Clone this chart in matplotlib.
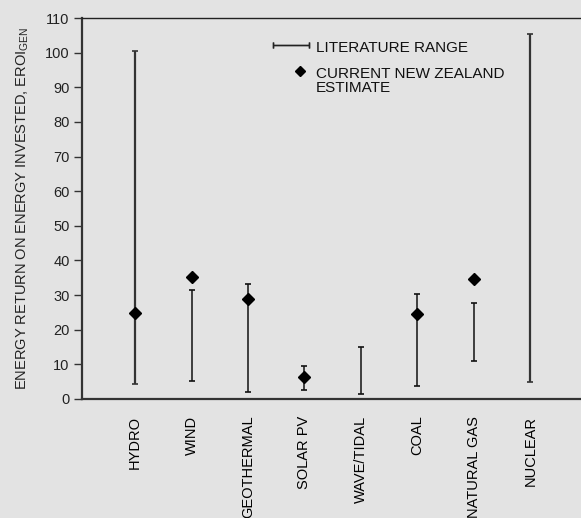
import matplotlib.pyplot as plt
import numpy as np

plt.rcParams['font.family'] = ['Liberation Sans', 'DejaVu Sans']
plt.rcParams['mathtext.fontset'] = 'custom'
plt.rcParams['mathtext.rm'] = 'Liberation Sans'

sources = ['HYDRO', 'WIND', 'GEOTHERMAL', 'SOLAR PV', 'WAVE/TIDAL', 'COAL',
           'NATURAL GAS', 'NUCLEAR']
range_low = [4.2, 5.2, 2.1, 2.6, 1.5, 3.8, 11.0, 5.0]
range_high = [100.4, 31.5, 33.1, 9.6, 14.9, 30.2, 27.7, 105.4]
nz_estimate = [24.9, 35.2, 28.8, 6.4, np.nan, 24.4, 34.7, np.nan]

bg = '#e3e3e3'
fig = plt.figure(figsize=(5.81, 5.18), dpi=100, facecolor=bg)
ax = fig.add_axes([82 / 581, 1 - 399 / 518, 1 - 82 / 581 + 0.01, 381 / 518])
ax.set_facecolor(bg)

x = np.arange(1, len(sources) + 1)
low = np.array(range_low)
high = np.array(range_high)
mid = (low + high) / 2
for i in range(len(sources)):
    wide = sources[i] in ('HYDRO', 'NUCLEAR')
    ax.errorbar(x[i], mid[i], yerr=[[mid[i] - low[i]], [high[i] - mid[i]]],
                fmt='none', ecolor='#333333' if wide else '#111111',
                elinewidth=1.6 if wide else 1.1, capsize=2.4, capthick=1.2)
ax.plot(x, nz_estimate, 'D', color='black', markersize=6.5, linestyle='none')

ax.set_xlim(0.06, 9.0)
ax.set_ylim(0, 110)
ax.set_yticks(np.arange(0, 111, 10))
ax.set_xticks(x)
ax.set_xticklabels(sources, rotation=90, fontsize=10.5, va='top')
ax.tick_params(axis='x', length=0, pad=12)
ax.tick_params(axis='y', length=6, width=1, color='#333333', labelsize=10.5,
               pad=3, labelcolor='#222222')

for s in ('left', 'bottom'):
    ax.spines[s].set_linewidth(1.6)
    ax.spines[s].set_color('#333333')
ax.spines['top'].set_linewidth(1.0)
ax.spines['top'].set_color('#222222')
ax.spines['right'].set_visible(False)

ax.set_ylabel(r'ENERGY RETURN ON ENERGY INVESTED, EROI$_{\mathrm{GEN}}$',
              fontsize=10.5, labelpad=10, color='#222222')

# legend
t = ax.transAxes
ax.errorbar([0.378], [0.929], xerr=[[0.0], [0.072]], fmt='none', ecolor='#222222',
            elinewidth=1.0, capsize=2.5, transform=t, clip_on=False)
ax.errorbar([0.450], [0.929], xerr=[[0.072], [0.0]], fmt='none', ecolor='#222222',
            elinewidth=1.0, capsize=2.5, transform=t, clip_on=False)
ax.text(0.463, 0.921, 'LITERATURE RANGE', transform=t, fontsize=11,
        va='center', ha='left', color='#111111')
ax.plot([0.432], [0.861], 'D', color='black', markersize=5, transform=t)
ax.text(0.463, 0.835, 'CURRENT NEW ZEALAND\nESTIMATE', transform=t, fontsize=11,
        va='center', ha='left', color='#111111', linespacing=1.05)

fig.savefig('out.png', dpi=100, facecolor=bg)
